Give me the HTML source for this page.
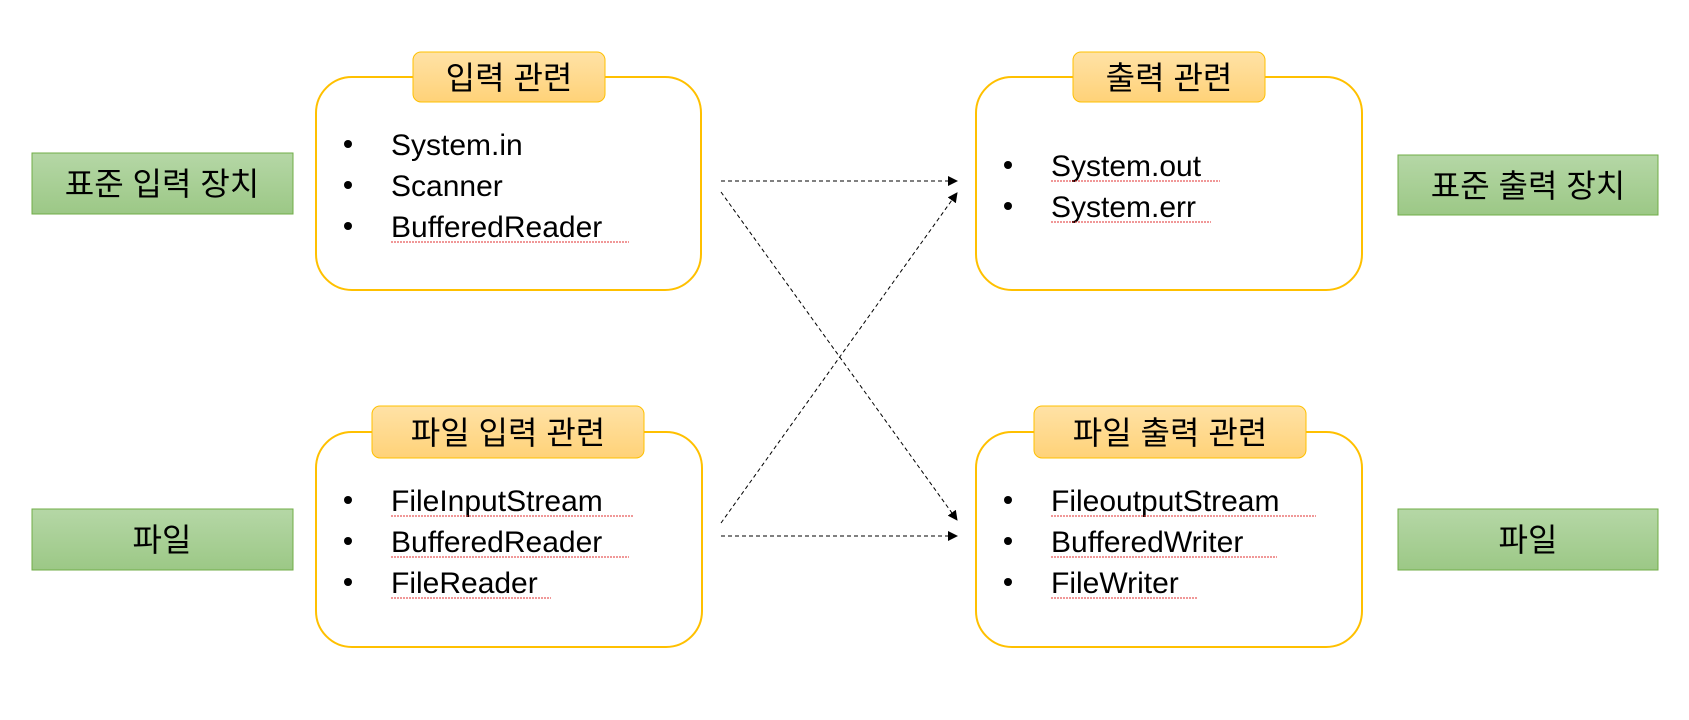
<!DOCTYPE html>
<html><head><meta charset="utf-8"><style>
html,body{margin:0;padding:0;background:#fff;}
svg text{font-family:"Liberation Sans","Noto Sans CJK KR",sans-serif;}
</style></head><body>
<svg width="1689" height="715" viewBox="0 0 1689 715" xmlns="http://www.w3.org/2000/svg">
<defs>
<linearGradient id="g" x1="0" y1="0" x2="0" y2="1"><stop offset="0" stop-color="#b5d7a6"/><stop offset="1" stop-color="#9cc886"/></linearGradient>
<linearGradient id="o" x1="0" y1="0" x2="0" y2="1"><stop offset="0" stop-color="#ffe2a6"/><stop offset="1" stop-color="#ffd278"/></linearGradient>
<marker id="a" markerWidth="10" markerHeight="10" refX="9" refY="5" orient="auto" markerUnits="userSpaceOnUse"><path d="M0,0 L10,5 L0,10 z" fill="#000"/></marker>
</defs>
<!-- green boxes -->
<rect x="32" y="153" width="261" height="61" fill="url(#g)" stroke="#70ad47" stroke-width="1"/>
<text x="162" y="195" font-size="32" text-anchor="middle">표준 입력 장치</text>
<rect x="32" y="509" width="261" height="61" fill="url(#g)" stroke="#70ad47" stroke-width="1"/>
<text x="162" y="551" font-size="32" text-anchor="middle">파일</text>
<rect x="1398" y="155" width="260" height="60" fill="url(#g)" stroke="#70ad47" stroke-width="1"/>
<text x="1528" y="197" font-size="32" text-anchor="middle">표준 출력 장치</text>
<rect x="1398" y="509" width="260" height="61" fill="url(#g)" stroke="#70ad47" stroke-width="1"/>
<text x="1528" y="551" font-size="32" text-anchor="middle">파일</text>

<!-- rounded boxes -->
<g fill="#fff" stroke="#ffc000" stroke-width="2">
<rect x="316" y="77" width="385" height="213" rx="36"/>
<rect x="316" y="432" width="386" height="215" rx="36"/>
<rect x="976" y="77" width="386" height="213" rx="36"/>
<rect x="976" y="432" width="386" height="215" rx="36"/>
</g>
<!-- tabs -->
<g fill="url(#o)" stroke="#ffc000" stroke-width="1">
<rect x="413" y="52" width="192" height="50" rx="8"/>
<rect x="372" y="406" width="272" height="52" rx="8"/>
<rect x="1073" y="52" width="192" height="50" rx="8"/>
<rect x="1034" y="406" width="272" height="52" rx="8"/>
</g>
<g font-size="32" text-anchor="middle">
<text x="509" y="89">입력 관련</text>
<text x="508" y="444">파일 입력 관련</text>
<text x="1169" y="89">출력 관련</text>
<text x="1170" y="444">파일 출력 관련</text>
</g>

<!-- bullets -->
<g font-size="30">
<g fill="#000">
<circle cx="348" cy="144" r="4"/><circle cx="348" cy="185" r="4"/><circle cx="348" cy="226" r="4"/>
<circle cx="348" cy="500" r="4"/><circle cx="348" cy="541" r="4"/><circle cx="348" cy="582" r="4"/>
<circle cx="1008" cy="165" r="4"/><circle cx="1008" cy="206" r="4"/>
<circle cx="1008" cy="500" r="4"/><circle cx="1008" cy="541" r="4"/><circle cx="1008" cy="582" r="4"/>
</g>
<text x="391" y="155">System.in</text>
<text x="391" y="196">Scanner</text>
<text x="391" y="237">BufferedReader</text>
<text x="391" y="511">FileInputStream</text>
<text x="391" y="552">BufferedReader</text>
<text x="391" y="593">FileReader</text>
<text x="1051" y="176">System.out</text>
<text x="1051" y="217">System.err</text>
<text x="1051" y="511">FileoutputStream</text>
<text x="1051" y="552">BufferedWriter</text>
<text x="1051" y="593">FileWriter</text>
</g>
<!-- red squiggles -->
<g stroke="#e03030" stroke-width="1" stroke-dasharray="2,1" fill="none">
<line x1="391" y1="242" x2="629" y2="242"/>
<line x1="391" y1="516" x2="634" y2="516"/>
<line x1="391" y1="557" x2="629" y2="557"/>
<line x1="391" y1="598" x2="551" y2="598"/>
<line x1="1051" y1="181" x2="1220" y2="181"/>
<line x1="1051" y1="222" x2="1211" y2="222"/>
<line x1="1051" y1="516" x2="1316" y2="516"/>
<line x1="1051" y1="557" x2="1277" y2="557"/>
<line x1="1051" y1="598" x2="1198" y2="598"/>
</g>

<!-- connectors -->
<g stroke="#000" stroke-width="1" stroke-dasharray="4,3" fill="none" marker-end="url(#a)">
<line x1="721" y1="181" x2="957" y2="181"/>
<line x1="721" y1="192" x2="957" y2="520"/>
<line x1="721" y1="523" x2="957" y2="193"/>
<line x1="721" y1="536" x2="957" y2="536"/>
</g>
</svg>
</body></html>
